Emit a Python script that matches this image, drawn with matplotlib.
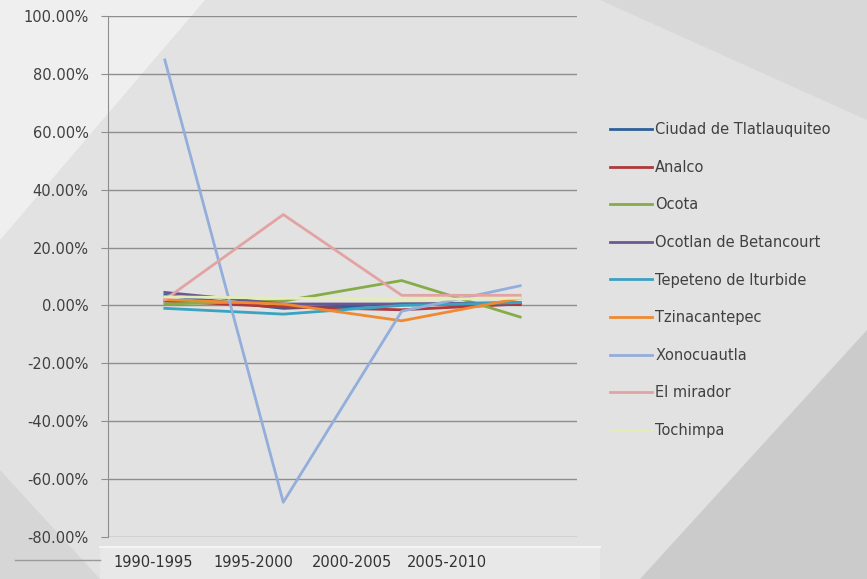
import matplotlib.pyplot as plt
from matplotlib.patches import Polygon
from matplotlib.lines import Line2D

periods = ["1990-1995", "1995-2000", "2000-2005", "2005-2010"]
localities = [
    "Ciudad de Tlatlauquiteo", "Analco", "Ocota", "Ocotlan de Betancourt",
    "Tepeteno de Iturbide", "Tzinacantepec", "Xonocuautla", "El mirador", "Tochimpa",
]
ciudad = [3.5, -1.0, 0.5, 0.3]
analco = [1.5, -0.5, -1.5, 0.5]
ocota = [0.5, 1.5, 8.6, -4.0]
ocotlan = [4.5, 0.5, 0.5, 1.0]
tepeteno = [-1.0, -3.0, 0.0, 1.0]
tzinacantepec = [2.0, 0.5, -5.3, 2.5]
xonocuautla = [84.8, -68.0, -2.0, 6.8]
el_mirador = [2.0, 31.4, 3.5, 3.5]
tochimpa = [3.0, 2.5, 2.0, 2.5]
series = [ciudad, analco, ocota, ocotlan, tepeteno, tzinacantepec,
          xonocuautla, el_mirador, tochimpa]
colors = ["#2F5F9A", "#B0383A", "#86AC48", "#6A5893", "#3AA3C2",
          "#EF8A32", "#93AEDB", "#E3A3A3", "#E4EDB8"]
y_ticks = [-80, -60, -40, -20, 0, 20, 40, 60, 80, 100]

W, H = 867, 579
fig = plt.figure(figsize=(8.67, 5.79), dpi=100)
fig.patch.set_facecolor("#e2e2e2")


def shade(pts, color):
    # background shapes of the slide, given in pixels from the top left
    fig.patches.append(Polygon([[px / W, 1 - py / H] for px, py in pts], closed=True,
                               transform=fig.transFigure, facecolor=color,
                               edgecolor="none", zorder=-10))


shade([(0, 0), (205, 0), (0, 240)], "#efefef")
shade([(867, 579), (640, 579), (867, 330)], "#cbcbcb")
shade([(600, 0), (867, 0), (867, 120)], "#d8d8d8")
shade([(0, 579), (0, 470), (100, 579)], "#d6d6d6")

ax = fig.add_axes([108 / W, 1 - 537 / H, 469 / W, 521 / H])
ax.set_facecolor("none")

x = range(len(periods))
for name, vals, c in zip(localities, series, colors):
    ax.plot(x, vals, color=c, lw=2, label=name)

ax.set_xlim(-0.48, 3.48)
ax.set_ylim(-80, 100)
ax.set_yticks(y_ticks)
ax.set_yticklabels([f"{v:.2f}%" for v in y_ticks], fontsize=10.5, color="#404040")
ax.set_xticks([])
ax.grid(axis="y", color="#8e8e8e", lw=1)
ax.set_axisbelow(True)
for s in ["top", "right", "bottom"]:
    ax.spines[s].set_visible(False)
ax.spines["left"].set_color("#8e8e8e")
ax.tick_params(axis="y", length=5, color="#8e8e8e", pad=9)

ax.legend(loc="upper left", bbox_to_anchor=(597 / W, 1 - 109 / H),
          bbox_transform=fig.transFigure, frameon=False, fontsize=10.5,
          handlelength=2.9, handletextpad=0.2, labelspacing=1.55,
          labelcolor="#404040")

# category label band
band = fig.add_axes([100 / W, 0, 500 / W, 32 / H])
band.set_facecolor("#e8e8e8")
band.set_xlim(0, 500)
band.set_ylim(0, 1)
band.set_yticks([])
band.set_xticks([53, 153, 252, 347])
band.set_xticklabels(periods, fontsize=10.5, color="#333333")
band.tick_params(axis="x", length=0, direction="in", pad=-17)
for s in ["bottom", "right", "left"]:
    band.spines[s].set_visible(False)
band.spines["top"].set_color("#f4f4f4")
band.spines["top"].set_linewidth(1.5)

fig.add_artist(Line2D([15 / W, 100 / W], [1 - 560 / H, 1 - 560 / H],
                      transform=fig.transFigure, color="#9a9a9a", lw=1))

fig.savefig("out.png", dpi=100, facecolor=fig.get_facecolor())
